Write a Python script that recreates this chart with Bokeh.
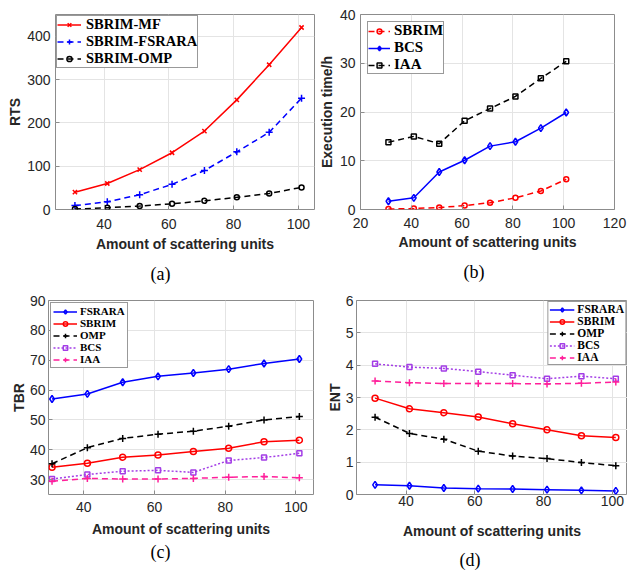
from bokeh.plotting import figure
from bokeh.models import Range1d, FixedTicker, Legend, LegendItem, Title
from bokeh.layouts import column, row
from bokeh.embed import file_html
from bokeh.resources import INLINE

units = [31, 41, 51, 61, 71, 81, 91, 101]

# (a) RTS
rts_mf = [40, 60, 92, 131, 181, 253, 334, 420]
rts_fsrara = [9, 18, 34, 58, 90, 133, 178, 257]
rts_omp = [1, 4, 8, 13, 20, 28, 37, 51]

# (b) execution time
time_sbrim = [0.1, 0.2, 0.4, 0.8, 1.4, 2.4, 3.8, 6.2]
time_bcs = [1.7, 2.4, 7.7, 10.1, 13.0, 13.9, 16.7, 19.9]
time_iaa = [13.8, 15.0, 13.5, 18.2, 20.7, 23.2, 26.9, 30.4]

# (c) TBR
tbr_fsrara = [57.0, 58.7, 62.6, 64.6, 65.7, 67.0, 68.9, 70.4]
tbr_sbrim = [34.1, 35.5, 37.5, 38.2, 39.4, 40.5, 42.7, 43.2]
tbr_omp = [35.3, 40.7, 43.8, 45.2, 46.2, 47.9, 50.0, 51.1]
tbr_bcs = [30.2, 31.7, 32.8, 33.1, 32.4, 36.4, 37.4, 38.8]
tbr_iaa = [29.4, 30.4, 30.2, 30.2, 30.4, 30.8, 31.0, 30.6]

# (d) ENT
ent_fsrara = [0.30, 0.27, 0.20, 0.18, 0.17, 0.15, 0.13, 0.11]
ent_sbrim = [2.98, 2.65, 2.53, 2.40, 2.19, 2.00, 1.82, 1.76]
ent_omp = [2.39, 1.89, 1.71, 1.34, 1.19, 1.11, 0.99, 0.89]
ent_bcs = [4.04, 3.94, 3.90, 3.80, 3.69, 3.58, 3.66, 3.58]
ent_iaa = [3.51, 3.46, 3.43, 3.43, 3.43, 3.42, 3.44, 3.48]

x_label = "Amount of scattering units"

RED = "#ff0000"
BLUE = "#0000ff"
BLACK = "#000000"
PURPLE = "#a33de6"
PINK = "#ff1f9a"
DASH = "6 4"
DOT = "2 2"


def panel(width, height, borders, xr, yr, xticks, yticks, ylabel, caption,
          cap, series, leg, ax):
    bl, br, bt, bb = borders
    p = figure(width=width, height=height, x_range=Range1d(*xr), y_range=Range1d(*yr),
               output_backend="svg", toolbar_location=None, title_location=None,
               min_border_left=bl, min_border_right=br, min_border_top=bt,
               min_border_bottom=bb, background_fill_color="white",
               border_fill_color="white", outline_line_color="#8c8c8c",
               outline_line_width=1)
    p.xaxis.ticker = FixedTicker(ticks=xticks)
    p.yaxis.ticker = FixedTicker(ticks=yticks)
    p.xaxis.axis_label = x_label
    p.yaxis.axis_label = ylabel
    for a in (p.xaxis[0], p.yaxis[0]):
        a.axis_line_color = None
        a.major_tick_in = 4
        a.major_tick_out = 0
        a.major_tick_line_color = "#8c8c8c"
        a.minor_tick_line_color = None
        a.major_label_text_font = "Liberation Sans"
        a.major_label_text_font_size = "14px"
        a.major_label_text_color = "#262626"
        a.axis_label_text_font = "Liberation Sans"
        a.axis_label_text_font_size = "14px"
        a.axis_label_text_font_style = "bold"
        a.axis_label_text_color = "#262626"
    p.xaxis.major_label_standoff = ax[0]
    p.xaxis.axis_label_standoff = ax[1]
    p.yaxis.major_label_standoff = ax[2]
    p.yaxis.axis_label_standoff = ax[3]
    p.grid.grid_line_color = "#e4e4e4"
    p.grid.grid_line_width = 1

    items = []
    for label, ys, color, dash, marker, msize in series:
        ln = p.line(units, ys, line_color=color, line_width=1.5, line_dash=dash)
        sc = p.scatter(units, ys, marker=marker, size=msize, line_color=color,
                       fill_color=None, line_width=1.5)
        items.append(LegendItem(label=label, renderers=[ln, sc]))

    legend = Legend(items=items, location=leg["loc"], margin=leg["margin"],
                    padding=leg["padding"], spacing=leg["spacing"],
                    glyph_width=leg["gw"], glyph_height=leg["lh"],
                    label_height=leg["lh"], label_standoff=leg["ls"],
                    label_text_font="Liberation Serif",
                    label_text_font_style="bold",
                    label_text_font_size=leg["fs"],
                    label_text_color="#000000",
                    border_line_color="#333333", border_line_width=1,
                    background_fill_color="white", background_fill_alpha=1.0)
    p.add_layout(legend, "center")

    t = Title(text=caption, align="left", offset=cap[0], standoff=cap[1],
              text_font="Liberation Serif", text_font_size="18px",
              text_font_style="normal", text_color="#000000")
    p.add_layout(t, "below")
    return p


pa = panel(315, 291, (55, 1, 14, 82), (25, 105), (0, 450),
           [40, 60, 80, 100], [0, 100, 200, 300, 400], "RTS", "(a)", (95, 15),
           [("SBRIM-MF", rts_mf, RED, "solid", "x", 6),
            ("SBRIM-FSRARA", rts_fsrara, BLUE, DASH, "cross", 7),
            ("SBRIM-OMP", rts_omp, BLACK, DASH, "circle", 5)],
           dict(loc="top_left", margin=1, padding=0, spacing=-4, gw=24, lh=13,
                ls=5, fs="14.5px"),
           (9, 4, 5, 1))

pb = panel(312, 291, (41, 13, 14, 82), (20, 120), (0, 40),
           [20, 40, 60, 80, 100, 120], [0, 10, 20, 30, 40],
           "Execution time/h", "(b)", (103, 15),
           [("SBRIM", time_sbrim, RED, DASH, "circle", 5),
            ("BCS", time_bcs, BLUE, "solid", "diamond", 7),
            ("IAA", time_iaa, BLACK, DASH, "square", 5)],
           dict(loc="top_left", margin=7, padding=0, spacing=-1, gw=22, lh=12,
                ls=4, fs="15px"),
           (8, 3, 5, 2))

pc = panel(315, 285, (48, 2, 9, 80), (30, 105), (25, 90),
           [40, 60, 80, 100], [30, 40, 50, 60, 70, 80, 90], "TBR", "(c)", (102, 1),
           [("FSRARA", tbr_fsrara, BLUE, "solid", "diamond", 7),
            ("SBRIM", tbr_sbrim, RED, "solid", "circle", 6),
            ("OMP", tbr_omp, BLACK, DASH, "cross", 7),
            ("BCS", tbr_bcs, PURPLE, DOT, "square", 5),
            ("IAA", tbr_iaa, PINK, DASH, "cross", 7)],
           dict(loc="top_left", margin=2, padding=2, spacing=-2, gw=24, lh=11,
                ls=3, fs="11px"),
           (7, 6, 3, 0))

pd_ = panel(312, 285, (41, 0, 9, 80), (25.6, 104.4), (0, 6),
            [40, 60, 80, 100], [0, 1, 2, 3, 4, 5, 6], "ENT", "(d)", (103, 13),
            [("FSRARA", ent_fsrara, BLUE, "solid", "diamond", 7),
             ("SBRIM", ent_sbrim, RED, "solid", "circle", 6),
             ("OMP", ent_omp, BLACK, DASH, "cross", 7),
             ("BCS", ent_bcs, PURPLE, DOT, "square", 5),
             ("IAA", ent_iaa, PINK, DASH, "cross", 7)],
            dict(loc="top_right", margin=1, padding=1, spacing=-3, gw=25, lh=11,
                 ls=3, fs="11.5px"),
            (1, 14, 3, 0))

layout = column(row(pa, pb), row(pc, pd_))

with open("out.html", "w") as f:
    f.write(file_html(layout, INLINE))
